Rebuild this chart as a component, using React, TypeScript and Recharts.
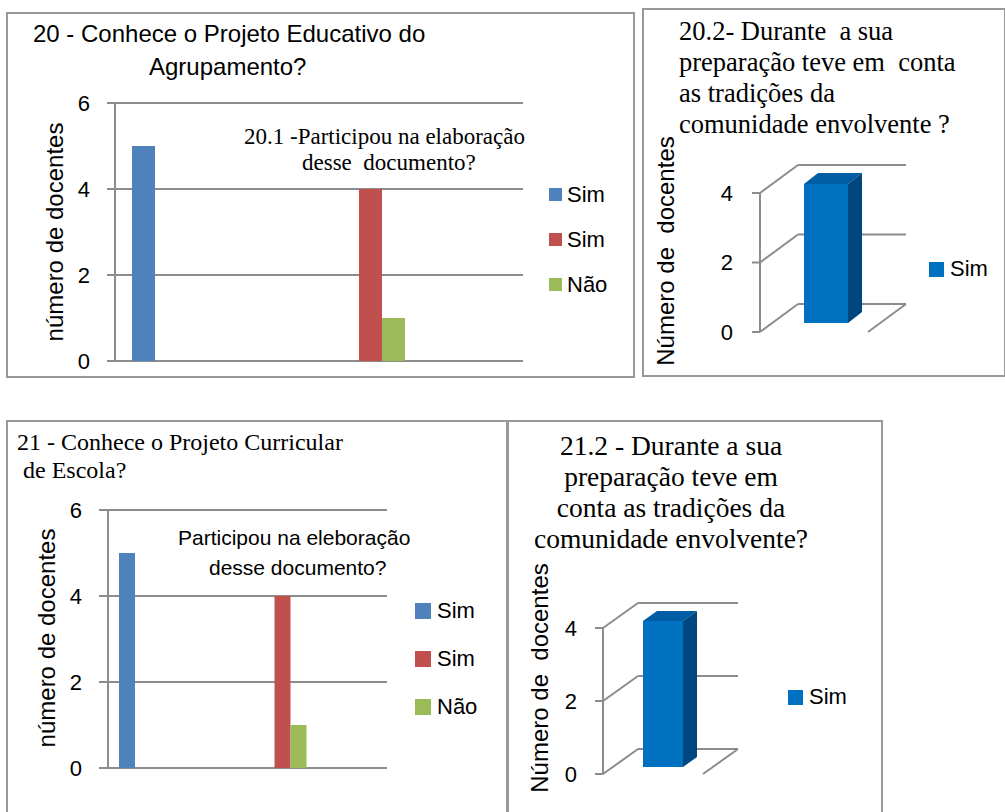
import React from "react"
import { BarChart, Bar, XAxis, YAxis, CartesianGrid, Legend, ReferenceLine } from "recharts"

// categories (no axis labels shown in the original)
const categories = ["c1", "c2", "c3", "c4"]

// 20 / 20.1
const simProjeto20 = [5, 0, 0, 0]
const simParticipou20 = [0, 0, 4, 0]
const naoParticipou20 = [0, 0, 1, 0]

// 21 / 21.1
const simProjeto21 = [5, 0, 0, 0]
const simParticipou21 = [0, 0, 4, 0]
const naoParticipou21 = [0, 0, 1, 0]

// 20.2 and 21.2
const tradicoesCategories = ["Sim"]
const simTradicoes202 = [4]
const simTradicoes212 = [4]

const ticks2d = [0, 2, 4, 6]
const ticks3d = [0, 2, 4]
const seriesNames = ["Sim", "Sim", "Não"]
const seriesKeys = ["s1", "s2", "s3"]
const COLORS = ["#4F81BD", "#C0504D", "#9BBB59"]

const GRID = "#8c8c8c"
const SANS = "'Liberation Sans', Arial, sans-serif"
const SERIF = "'Liberation Serif', 'Times New Roman', serif"

const data20 = categories.map((c, i) => ({ cat: c, s1: simProjeto20[i], s2: simParticipou20[i], s3: naoParticipou20[i] }))
const data21 = categories.map((c, i) => ({ cat: c, s1: simProjeto21[i], s2: simParticipou21[i], s3: naoParticipou21[i] }))
const data202 = tradicoesCategories.map((c, i) => ({ cat: c, sim: simTradicoes202[i] }))
const data212 = tradicoesCategories.map((c, i) => ({ cat: c, sim: simTradicoes212[i] }))

type Margin = { top: number; right: number; bottom: number; left: number }

const Chart2D = (props: {
  data: any[]
  left: number
  top: number
  width: number
  height: number
  margin: Margin
  barSize: number
  tickSize: number
  legendLeft: number
  legendTop: number
  rowH: number
  swatch: number
  gap: number
  fontSize: number
}) => {
  const { data, left, top, width, height, margin, barSize, tickSize, legendLeft, legendTop, rowH, swatch, gap, fontSize } = props
  return (
    <div style={{ position: "absolute", left, top }}>
      <BarChart width={width} height={height} data={data} margin={margin} barGap={0}>
        <CartesianGrid vertical={false} stroke={GRID} strokeWidth={2} />
        <XAxis dataKey="cat" hide />
        <YAxis
          width={40}
          domain={[0, 6]}
          ticks={ticks2d}
          interval={0}
          tickSize={tickSize}
          tickMargin={17}
          axisLine={{ stroke: GRID, strokeWidth: 2 }}
          tickLine={{ stroke: GRID, strokeWidth: 2 }}
          tick={{ fill: "#000", fontSize: 22, fontFamily: SANS }}
        />
        {seriesKeys.map((k, i) => (
          <Bar key={k} dataKey={k} name={seriesNames[i]} fill={COLORS[i]} barSize={barSize} isAnimationActive={false} />
        ))}
        <Legend
          verticalAlign="middle"
          layout="horizontal"
          wrapperStyle={{ left: legendLeft, top: legendTop, width: 90 }}
          content={() => (
            <div>
              {seriesNames.map((n, i) => (
                <div key={i} style={{ height: rowH, display: "flex", alignItems: "center", fontFamily: SANS, fontSize }}>
                  <span style={{ width: swatch, height: swatch, background: COLORS[i], marginRight: gap, display: "inline-block" }} />
                  <span>{n}</span>
                </div>
              ))}
            </div>
          )}
        />
      </BarChart>
    </div>
  )
}

type Off = { dx: number; dy: number }

const Chart3D = (props: {
  data: any[]
  left: number
  top: number
  width: number
  height: number
  margin: Margin
  barSize: number
  front: Off
  back: Off
  side: Off
  tickEnd: number
  legendLeft: number
  legendTop: number
}) => {
  const { data, left, top, width, height, margin, barSize, front, back, side, tickEnd, legendLeft, legendTop } = props
  const axisX = margin.left + 40 + front.dx
  return (
    <div style={{ position: "absolute", left, top }}>
      <BarChart width={width} height={height} data={data} margin={margin}>
        <CartesianGrid
          vertical={false}
          horizontal={(p: any) => (
            <g key={p.key}>
              <line x1={p.x1 + front.dx} y1={p.y1 + front.dy} x2={p.x1 + back.dx} y2={p.y1 + back.dy} stroke={GRID} strokeWidth={2} />
              <line x1={p.x1 + back.dx} y1={p.y1 + back.dy} x2={p.x2 + back.dx} y2={p.y1 + back.dy} stroke={GRID} strokeWidth={2} />
            </g>
          )}
        />
        <XAxis dataKey="cat" hide />
        <YAxis
          width={40}
          domain={[0, 4]}
          ticks={ticks3d}
          interval={0}
          tickLine={false}
          axisLine={{ stroke: GRID, strokeWidth: 2, transform: `translate(${front.dx},${front.dy})` }}
          tick={(p: any) => {
            const y = p.payload.coordinate + front.dy
            return (
              <g key={p.index}>
                <line x1={axisX - 8} x2={axisX} y1={y} y2={y} stroke={GRID} strokeWidth={2} />
                <text x={tickEnd} y={y} dy="0.355em" textAnchor="end" fontSize={22} fontFamily={SANS} fill="#000">
                  {p.payload.value}
                </text>
              </g>
            )
          }}
        />
        <ReferenceLine
          y={0}
          shape={(p: any) => (
            <line x1={p.x2 + back.dx} y1={p.y1 + back.dy} x2={p.x2 + front.dx} y2={p.y1 + front.dy} stroke={GRID} strokeWidth={2} />
          )}
        />
        <Bar
          dataKey="sim"
          name="Sim"
          barSize={barSize}
          isAnimationActive={false}
          fill="#0070C0"
          shape={(p: any) => {
            const { x, y, width: w, height: h } = p
            return (
              <g>
                <path d={`M${x},${y} L${x + side.dx},${y + side.dy} L${x + w + side.dx},${y + side.dy} L${x + w},${y} Z`} fill="#005CA3" />
                <path d={`M${x + w},${y} L${x + w + side.dx},${y + side.dy} L${x + w + side.dx},${y + h + side.dy} L${x + w},${y + h} Z`} fill="#00467F" />
                <rect x={x} y={y} width={w} height={h} fill="#0070C0" />
              </g>
            )
          }}
        />
        <Legend
          verticalAlign="middle"
          layout="horizontal"
          wrapperStyle={{ left: legendLeft, top: legendTop, width: 80 }}
          content={() => (
            <div style={{ height: 40, display: "flex", alignItems: "center", fontFamily: SANS, fontSize: 22 }}>
              <span style={{ width: 15, height: 15, background: "#0070C0", marginRight: 6, display: "inline-block" }} />
              <span>Sim</span>
            </div>
          )}
        />
      </BarChart>
    </div>
  )
}

const Txt = (p: { left: number; top: number; font: string; size: number; lh: number; children: React.ReactNode; width?: number; align?: any }) => (
  <div
    style={{
      position: "absolute",
      left: p.left,
      top: p.top,
      width: p.width,
      textAlign: p.align,
      fontFamily: p.font,
      fontSize: p.size,
      lineHeight: `${p.lh}px`,
      whiteSpace: "pre",
      color: "#000",
    }}
  >
    {p.children}
  </div>
)

const VLabel = (p: { cx: number; cy: number; text: string }) => (
  <div
    style={{
      position: "absolute",
      left: p.cx,
      top: p.cy,
      transform: "translate(-50%, -50%) rotate(-90deg)",
      fontFamily: SANS,
      fontSize: 24,
      lineHeight: "28px",
      whiteSpace: "pre",
    }}
  >
    {p.text}
  </div>
)

const panel = (left: number, top: number, width: number, height: number) => ({
  position: "absolute" as const,
  left,
  top,
  width,
  height,
  border: "2px solid #999",
  boxSizing: "border-box" as const,
})

export default function App() {
  return (
    <div style={{ position: "absolute", left: 0, top: 0, width: 1005, height: 812, background: "#fff", overflow: "hidden" }}>
      <div style={panel(6, 12, 629, 366)} />
      <div style={panel(642, 8, 364, 369)} />
      <div style={panel(6, 420, 502, 400)} />
      <div style={panel(507, 420, 376, 400)} />

      <Chart2D
        data={data20}
        left={0}
        top={0}
        width={640}
        height={390}
        margin={{ top: 103, right: 117, bottom: 29, left: 75 }}
        barSize={23}
        tickSize={8}
        legendLeft={549}
        legendTop={172}
        rowH={45}
        swatch={13}
        gap={5}
        fontSize={22}
      />
      <Chart2D
        data={data21}
        left={0}
        top={395}
        width={515}
        height={417}
        margin={{ top: 115, right: 128, bottom: 44, left: 68 }}
        barSize={16}
        tickSize={9}
        legendLeft={415}
        legendTop={192}
        rowH={48}
        swatch={16}
        gap={6}
        fontSize={22}
      />
      <Chart3D
        data={data202}
        left={636}
        top={0}
        width={369}
        height={390}
        margin={{ top: 184, right: 125, bottom: 67, left: 96 }}
        barSize={44}
        front={{ dx: -12, dy: 9 }}
        back={{ dx: 26, dy: -19 }}
        side={{ dx: 14, dy: -11 }}
        tickEnd={97}
        legendLeft={293}
        legendTop={249}
      />
      <Chart3D
        data={data212}
        left={505}
        top={395}
        width={390}
        height={417}
        margin={{ top: 226, right: 182, bottom: 45, left: 68 }}
        barSize={40}
        front={{ dx: -10, dy: 7 }}
        back={{ dx: 25, dy: -18 }}
        side={{ dx: 14, dy: -10 }}
        tickEnd={72}
        legendLeft={283}
        legendTop={282}
      />

      <Txt left={33} top={19} font={SANS} size={24} lh={30}>20 - Conhece o Projeto Educativo do</Txt>
      <Txt left={149} top={52} font={SANS} size={24} lh={30}>Agrupamento?</Txt>
      <Txt left={244} top={124} font={SERIF} size={23} lh={26}>20.1 -Participou na elaboração</Txt>
      <Txt left={302} top={150} font={SERIF} size={23} lh={26}>desse  documento?</Txt>
      <VLabel cx={55} cy={232} text="número de docentes" />

      <Txt left={679} top={16} font={SERIF} size={26.5} lh={31}>
        {"20.2- Durante  a sua\npreparação teve em  conta\nas tradições da\ncomunidade envolvente ?"}
      </Txt>
      <VLabel cx={666} cy={251} text="Número de  docentes" />

      <Txt left={17} top={428} font={SERIF} size={24} lh={28}>{"21 - Conhece o Projeto Curricular\n de Escola?"}</Txt>
      <Txt left={178} top={523} font={SANS} size={21} lh={30}>Participou na eleboração</Txt>
      <Txt left={209} top={553} font={SANS} size={21} lh={30}>desse documento?</Txt>
      <VLabel cx={47} cy={638} text="número de docentes" />

      <Txt left={508} top={430} width={326} align="center" font={SERIF} size={27.5} lh={31}>
        {"21.2 - Durante a sua\npreparação teve em\nconta as tradições da\ncomunidade envolvente?"}
      </Txt>
      <VLabel cx={540} cy={678} text="Número de  docentes" />
    </div>
  )
}
